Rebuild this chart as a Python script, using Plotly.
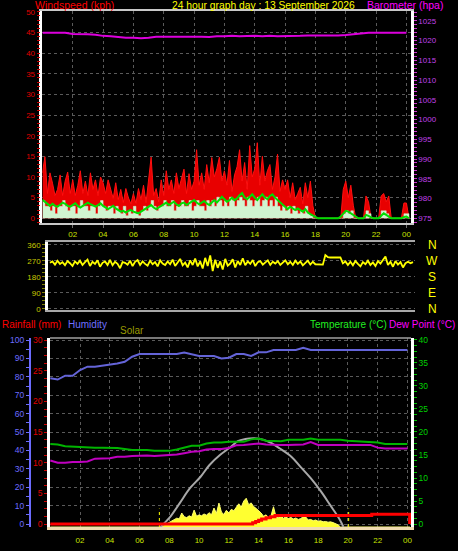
import plotly.graph_objects as go

W, H = 458, 551

# ---------------- data ----------------
t10 = [i / 6 for i in range(146)]          # 10-minute samples, hours
t30 = [i / 2 for i in range(49)]           # 30-minute samples, hours

hour_ticks = list(range(2, 25, 2))
hour_labels = ["02", "04", "06", "08", "10", "12", "14", "16", "18", "20", "22", "00"]

gust = [11.0, 14.9, 6.0, 11.0, 8.5, 5.5,
        7.0, 10.5, 5.5, 9.0, 11.2, 6.0,
        9.3, 5.5, 8.0, 11.5, 6.0, 9.0,
        5.5, 11.0, 7.0, 9.3, 5.5, 10.0,
        8.6, 6.0, 9.3, 7.0, 4.8, 8.6,
        4.5, 7.0, 3.8, 7.2, 5.0, 3.5,
        6.0, 3.6, 7.2, 4.5, 8.0, 3.8,
        9.0, 14.8, 5.5, 7.2, 4.0, 9.3,
        5.5, 11.5, 7.0, 9.3, 6.0, 11.0,
        7.2, 9.3, 11.9, 6.0, 10.8, 7.0,
        9.0, 16.6, 8.0, 11.0, 7.0, 13.0,
        8.6, 14.7, 10.0, 12.0, 14.8, 9.0,
        11.5, 8.0, 14.0, 6.5, 10.5, 12.5,
        16.6, 9.0, 13.5, 7.0, 17.6, 10.0,
        12.0, 18.3, 8.0, 15.0, 9.0, 11.5,
        13.0, 7.0, 10.0, 15.5, 6.5, 9.3,
        7.0, 9.3, 5.0, 8.6, 4.5, 6.0,
        7.5, 3.5, 8.6, 5.0, 9.0, 3.0,
        0, 0, 0, 0, 0, 0,
        0, 0, 0, 0, 0, 7.0,
        9.0, 5.0, 8.0, 3.0, 0, 0,
        0, 0, 5.4, 4.0, 0, 0,
        0, 0, 5.4, 6.0, 4.0, 5.4,
        0, 0, 0, 0, 0, 3.7,
        3.7, 0]

speed = [4.3, 2.9, 2.9, 1.8, 2.9, 1.1,
         2.9, 2.9, 4.3, 2.9, 1.8, 2.9,
         2.9, 1.1, 2.9, 4.3, 2.9, 2.9,
         1.8, 2.9, 2.9, 1.1, 2.9, 4.3,
         2.9, 1.8, 2.9, 2.9, 1.1, 2.9,
         1.8, 1.1, 2.9, 0.6, 1.8, 1.1,
         2.9, 1.1, 0.6, 1.8, 2.9, 1.8,
         2.9, 4.3, 2.9, 1.8, 2.9, 2.9,
         4.3, 2.9, 2.9, 4.3, 1.8, 2.9,
         2.9, 4.3, 2.9, 2.9, 4.3, 1.8,
         2.9, 4.3, 2.9, 2.9, 1.8, 4.3,
         2.9, 4.3, 2.9, 5.1, 4.3, 2.9,
         4.3, 2.9, 5.1, 4.3, 2.9, 4.3,
         5.1, 4.3, 2.9, 5.1, 4.3, 2.9,
         4.3, 5.1, 2.9, 4.3, 5.1, 2.9,
         4.3, 2.9, 5.1, 2.9, 1.8, 2.9,
         1.8, 2.9, 1.1, 2.9, 1.8, 1.1,
         1.8, 1.1, 2.9, 1.1, 0.6, 0,
         0, 0, 0, 0, 0, 0,
         0, 0, 0, 0, 0, 1.1,
         1.8, 1.1, 1.8, 0, 0, 0,
         0, 0, 1.8, 1.1, 0, 0,
         0, 0, 1.8, 1.8, 1.1, 0,
         0, 0, 0, 0, 0, 1.1,
         1.1, 0]

avg_speed = [4.5, 4.0, 3.5, 3.0, 3.5, 3.0,
             2.8, 3.2, 3.8, 3.5, 3.0, 2.8,
             3.2, 3.6, 3.0, 2.6, 3.0, 3.4,
             3.8, 3.4, 3.0, 2.8, 3.2, 3.6,
             3.0, 2.6, 2.2, 2.6, 3.0, 2.4,
             2.0, 1.6, 1.8, 1.4, 1.8, 2.0,
             1.6, 1.4, 1.2, 1.6, 2.0, 2.4,
             2.8, 3.2, 2.6, 2.2, 2.6, 3.0,
             3.4, 3.8, 3.2, 3.6, 4.0, 3.4,
             3.0, 3.6, 3.8, 3.2, 3.6, 4.0,
             4.4, 3.8, 3.4, 3.8, 4.2, 3.6,
             3.2, 3.8, 4.4, 3.8, 4.6, 5.2,
             4.6, 4.0, 4.4, 5.0, 4.4, 4.8,
             5.6, 6.1, 5.0, 4.6, 5.2, 5.8,
             5.0, 4.4, 5.2, 5.8, 5.0, 4.6,
             5.4, 5.8, 5.0, 4.4, 4.0, 3.2,
             2.6, 2.2, 2.8, 2.4, 2.0, 2.4,
             2.0, 1.6, 2.2, 1.4, 1.0, 0.6,
             0.2, 0, 0, 0, 0, 0,
             0, 0, 0, 0, 0.4, 1.0,
             1.8, 1.6, 1.2, 0.6, 0.2, 0,
             0, 0, 0.8, 0.6, 0.2, 0,
             0, 0, 0.6, 1.2, 0.8, 0.4,
             0, 0, 0, 0, 0, 0.3,
             0.4, 0]

barometer = [1022.0, 1022.0, 1022.1, 1022.0, 1021.7, 1021.7, 1021.6, 1021.5, 1021.2, 1021.1,
             1020.9, 1020.7, 1020.7, 1020.6, 1020.7, 1021.0, 1021.0, 1021.0, 1021.1, 1021.0,
             1021.0, 1021.0, 1020.9, 1021.1, 1021.1, 1021.2, 1021.1, 1021.2, 1021.2, 1021.1,
             1021.2, 1021.1, 1021.1, 1021.2, 1021.2, 1021.3, 1021.3, 1021.3, 1021.2, 1021.3,
             1021.4, 1021.6, 1021.7, 1022.0, 1022.0, 1022.0, 1022.0, 1022.0, 1022.0]

direction = [258, 266, 248, 270, 252, 262,
             245, 268, 256, 240, 266, 252,
             270, 246, 262, 276, 240, 264,
             252, 272, 236, 258, 266, 246,
             274, 244, 264, 252, 228, 262,
             258, 248, 270, 240, 264, 274,
             246, 266, 252, 242, 270, 250,
             262, 238, 272, 254, 246, 266,
             250, 276, 240, 264, 280, 244,
             260, 232, 272, 246, 282, 238,
             266, 226, 286, 240, 300, 212,
             276, 230, 266, 220, 280, 242,
             254, 278, 232, 268, 246, 284,
             244, 266, 252, 274, 240, 262,
             268, 248, 260, 272, 246, 264,
             254, 268, 246, 262, 272, 250,
             264, 246, 270, 252, 266, 244,
             258, 270, 248, 264, 250, 250,
             248, 248, 302, 290, 288, 288,
             288, 288, 288, 255, 266, 246,
             264, 244, 268, 252, 238, 262,
             250, 270, 246, 260, 240, 268,
             254, 274, 294, 246, 264, 236,
             268, 248, 262, 232, 256, 264,
             256, 262]
compass_vals = [0, 90, 180, 270, 360]
compass_labels = ["N", "E", "S", "W", "N"]

humidity = [79.2, 78.5, 80.6, 80.6, 83.7, 85.5, 85.5, 86.0, 86.8, 87.2,
            88.2, 90.9, 92.4, 92.4, 92.4, 92.4, 92.4, 92.4, 93.2, 92.4,
            91.3, 91.3, 91.3, 90.0, 90.4, 92.4, 92.4, 91.3, 93.3, 93.3,
            94.6, 94.6, 94.6, 94.6, 95.8, 94.6, 94.6, 94.6, 94.6, 94.6,
            94.6, 94.6, 94.6, 94.6, 94.6, 94.6, 94.6, 94.6, 94.6]

temperature = [17.4, 17.3, 16.9, 16.8, 16.7, 16.6, 16.6, 16.6, 16.6, 16.5,
               16.3, 16.1, 16.1, 16.1, 15.9, 15.9, 15.9, 16.2, 16.6, 17.0,
               17.0, 17.5, 17.7, 17.7, 17.9, 17.9, 17.9, 18.4, 18.6, 18.1,
               18.0, 18.0, 18.3, 18.3, 18.3, 18.6, 18.3, 18.3, 18.3, 18.3,
               18.1, 18.0, 18.0, 17.9, 17.7, 17.4, 17.4, 17.4, 17.4]

dewpoint = [13.8, 13.3, 13.3, 13.5, 13.5, 13.6, 14.2, 14.3, 14.3, 14.6,
            14.6, 14.8, 14.9, 14.9, 14.8, 14.9, 15.0, 15.1, 15.4, 15.7,
            15.8, 16.2, 16.3, 16.3, 16.5, 17.1, 17.2, 17.4, 17.5, 17.3,
            17.2, 17.2, 17.2, 17.2, 17.3, 17.8, 17.2, 17.2, 17.2, 17.2,
            17.2, 17.2, 17.2, 17.2, 16.6, 16.4, 16.4, 16.4, 16.4]

rain_t = [0, 13.4, 13.6, 13.8, 14.0, 14.2, 14.5, 14.8, 15.1, 21.5, 21.6, 24.1, 24.15]
rain = [0, 0, 0.2, 0.4, 0.6, 0.8, 1.0, 1.2, 1.4, 1.4, 1.6, 1.6, 0]

solar_max_t = [7.4, 8.0, 8.7, 9.4, 10.1, 10.7, 11.4, 12.1, 12.6, 13.1, 13.7,
               14.3, 14.8, 15.4, 16.2, 16.8, 17.5, 18.2, 18.8, 19.4, 19.7]
solar_max = [0, 49, 130, 212, 273, 337, 391, 433, 467, 478, 482,
             475, 458, 428, 382, 328, 265, 192, 120, 47, 0]

# measured solar, 10-minute samples from 07:30 to 19:30
solar_day = [0, 10, 18,
             26, 34, 41, 48, 44, 76,
             56, 51, 61, 54, 92, 58,
             66, 61, 71, 64, 78, 66,
             103, 74, 130, 81, 68, 91,
             76, 96, 88, 111, 126, 108,
             141, 156, 121, 131, 111, 101,
             91, 76, 58, 66, 51, 61,
             110, 56, 51, 58, 48, 54,
             46, 52, 44, 49, 41, 46,
             56, 54, 38, 41, 34, 38,
             31, 34, 28, 30, 26, 28,
             24, 20, 12, 0]
solar = [0] * 45 + solar_day + [0] * 28

sun_events = [7.33, 20.05]          # sunrise / sunset
sun_marker_height = 100

# ---------------- figure ----------------
FONT = "Liberation Sans, Arial, sans-serif"
GRID = "#5a5a5a"


def px_x(p):
    return p / W


def px_y(p):
    return 1 - p / H


fig = go.Figure()

# panel 1: wind
fig.add_trace(go.Scatter(x=t10, y=gust, xaxis="x", yaxis="y", mode="lines",
                         line=dict(color="#ff1010", width=1), fill="tozeroy",
                         fillcolor="#e80000"))
fig.add_trace(go.Scatter(x=t10, y=speed, xaxis="x", yaxis="y", mode="lines",
                         line=dict(color="#d0f4d0", width=0.5, shape="hv"), fill="tozeroy",
                         fillcolor="#d0f4d0"))
fig.add_trace(go.Scatter(x=t10, y=avg_speed, xaxis="x", yaxis="y", mode="lines",
                         line=dict(color="#00dd00", width=2)))
fig.add_trace(go.Scatter(x=t30, y=barometer, xaxis="x", yaxis="y2", mode="lines",
                         line=dict(color="#dd00dd", width=2)))

# panel 2: direction
fig.add_trace(go.Scatter(x=t10, y=direction, xaxis="x2", yaxis="y3", mode="lines",
                         line=dict(color="#ffff00", width=1.8)))

# panel 3 (y5 = humidity, main axis)
fig.add_trace(go.Scatter(x=t30, y=humidity, xaxis="x3", yaxis="y5", mode="lines",
                         line=dict(color="#6464d8", width=2)))
fig.add_trace(go.Scatter(x=t10, y=solar, xaxis="x3", yaxis="y6", mode="lines",
                         line=dict(color="#ffff70", width=1), fill="tozeroy",
                         fillcolor="#ffff30"))
fig.add_trace(go.Scatter(x=solar_max_t, y=solar_max, xaxis="x3", yaxis="y6", mode="lines",
                         line=dict(color="#a8a8a8", width=2, shape="spline")))
sx, sy = [], []
for ev in sun_events:
    sx += [ev, ev, None]
    sy += [0, sun_marker_height, None]
fig.add_trace(go.Scatter(x=sx, y=sy, xaxis="x3", yaxis="y6", mode="lines",
                         line=dict(color="#ffff00", width=1, dash="dot")))
fig.add_trace(go.Scatter(x=rain_t, y=rain, xaxis="x3", yaxis="y7", mode="lines",
                         line=dict(color="#ff0000", width=3, shape="hv")))
fig.add_trace(go.Scatter(x=t30, y=temperature, xaxis="x3", yaxis="y8", mode="lines",
                         line=dict(color="#00b400", width=2)))
fig.add_trace(go.Scatter(x=t30, y=dewpoint, xaxis="x3", yaxis="y8", mode="lines",
                         line=dict(color="#c000c0", width=2)))


def yax(**kw):
    d = dict(zeroline=False, showgrid=False)
    d.update(kw)
    return d


def minor(dt, col):
    return dict(dtick=dt, ticks="outside", ticklen=3, tickcolor=col, showgrid=False)


xcommon = dict(tickmode="array", tickvals=hour_ticks, ticktext=hour_labels, zeroline=False,
               tickfont=dict(family=FONT, size=8, color="#c8e000"))

fig.update_layout(
    width=W, height=H, margin=dict(l=0, r=0, t=0, b=0, autoexpand=False),
    paper_bgcolor="black", plot_bgcolor="black", showlegend=False,
    font=dict(family=FONT, color="white"),
    xaxis=dict(domain=[px_x(42.4), px_x(411)], anchor="y", range=[0, 24.3],
               ticks="outside", ticklen=3, tickcolor="#707070",
               showgrid=True, gridcolor=GRID, griddash="dot", gridwidth=1,
               showline=True, linecolor="#c8c8c8", linewidth=2, mirror=True, **xcommon),
    yaxis=yax(domain=[px_y(222.6), px_y(11)], anchor="x", range=[-1.05, 50.2],
              tickmode="array", tickvals=list(range(0, 51, 5)),
              tickfont=dict(family=FONT, size=8, color="#e00000"),
              ticks="outside", ticklen=3, tickcolor="#cc0000", minor=minor(1, "#cc0000"),
              showgrid=True, gridcolor=GRID, griddash="dot",
              showline=True, linecolor="#ffffff", linewidth=2.5),
    yaxis2=yax(overlaying="y", side="right", anchor="x", range=[973.9, 1027.5],
               tickmode="array", tickvals=list(range(975, 1026, 5)),
               tickfont=dict(family=FONT, size=8, color="#c040e8"),
               ticks="outside", ticklen=3, tickcolor="#cc33cc", minor=minor(1, "#cc33cc"),
               showline=True, linecolor="#ffffff", linewidth=2.5),
    xaxis2=dict(domain=[px_x(48), px_x(415)], anchor="y3", range=[-0.13, 24.3],
                showticklabels=False, ticks="", showgrid=False, zeroline=False,
                showline=True, linecolor="#a8a8a8", linewidth=1.5, mirror=True),
    yaxis3=yax(domain=[px_y(310), px_y(242)], anchor="x2", range=[-7.3, 375.2],
               tickmode="array", tickvals=compass_vals,
               tickfont=dict(family=FONT, size=8, color="#c8c800"),
               ticks="outside", ticklen=3, tickcolor="#808000", minor=minor(22.5, "#808000"),
               showgrid=True, gridcolor=GRID, griddash="dot",
               showline=True, linecolor="#ffffff", linewidth=2.5),
    xaxis3=dict(domain=[px_x(50), px_x(411)], anchor="y5", range=[-0.02, 24.24],
                ticks="outside", ticklen=3, tickcolor="#000000",
                showgrid=True, gridcolor=GRID, griddash="dot",
                showline=True, linecolor="#f0dcb0", linewidth=3, mirror=False, **xcommon),
    yaxis5=yax(domain=[px_y(527), px_y(338)], anchor="free", position=px_x(30), side="left",
               range=[-1.63, 101.09], tickmode="array", tickvals=list(range(0, 101, 10)),
               tickfont=dict(family=FONT, size=8.5, color="#6c6cff"),
               ticks="outside", ticklen=3, tickcolor="#6c6cff", minor=minor(5, "#6c6cff"),
               showgrid=True, gridcolor=GRID, griddash="dot",
               showline=True, linecolor="#6c6cff", linewidth=2),
    yaxis6=yax(overlaying="y5", anchor="x3", range=[0, 1027], showticklabels=False,
               ticks="", showline=False),
    yaxis7=yax(overlaying="y5", anchor="x3", side="left",
               range=[-0.49, 30.33], tickmode="array", tickvals=list(range(0, 31, 5)),
               tickfont=dict(family=FONT, size=8.5, color="#e00000"),
               ticks="outside", ticklen=3, tickcolor="#cc0000", minor=minor(1.25, "#cc0000"),
               showline=True, linecolor="#ffffff", linewidth=2.5),
    yaxis8=yax(overlaying="y5", side="right", anchor="x3",
               range=[-0.65, 40.43], tickmode="array", tickvals=list(range(0, 41, 5)),
               tickfont=dict(family=FONT, size=8.5, color="#00d000"),
               ticks="outside", ticklen=3, tickcolor="#00c000", minor=minor(1.25, "#00c000"),
               showline=True, linecolor="#ffffff", linewidth=2.5),
    shapes=[dict(type="line", xref="paper", yref="paper", x0=px_x(50), x1=px_x(411),
                 y0=px_y(338), y1=px_y(338), line=dict(color="#a0a0a0", width=1.5))],
)

titles = [
    ("Windspeed (kph)", 33, 5.5, "#ff0000", 10.5),
    ("24 hour graph day : 13 September 2026", 170, 5.5, "#ffff00", 10.3),
    ("Barometer (hpa)", 365, 5.5, "#ff00ff", 10.5),
    ("Rainfall (mm)", 0, 324, "#ff0000", 10),
    ("Humidity", 66, 324, "#7070ff", 10),
    ("Solar", 118, 330, "#9a9a00", 10),
    ("Temperature (°C)", 308, 324, "#22ee22", 10),
    ("Dew Point (°C)", 387, 324, "#ff00ff", 10),
]
for text, x, y, col, size in titles:
    fig.add_annotation(text=text, xref="paper", yref="paper", x=px_x(x), y=px_y(y),
                       xanchor="left", yanchor="middle", showarrow=False,
                       font=dict(family=FONT, size=size, color=col))

for val, lab in zip(compass_vals, compass_labels):
    fig.add_annotation(text=lab, xref="paper", yref="y3", x=px_x(432), y=val,
                       xanchor="center", yanchor="middle", showarrow=False,
                       font=dict(family=FONT, size=12, color="#ffff00"))

fig.write_html("out.html", config={"displayModeBar": False},
               post_script="document.body.style.margin='0';document.body.style.overflow='hidden';")
